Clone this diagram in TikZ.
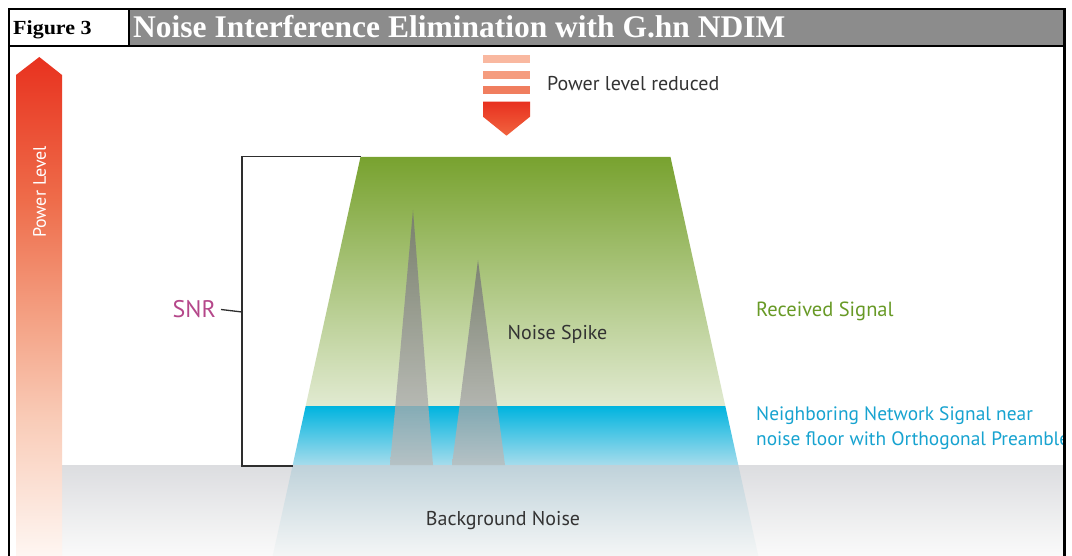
\documentclass[tikz,border=0pt]{standalone}
\usepackage{fontspec}
\setmainfont{Liberation Serif}
\setsansfont{PT Sans}

% palette
\definecolor{hdrgray}{HTML}{8C8C8C}
\definecolor{bandtop}{HTML}{DCDDE0}
\definecolor{bandbot}{HTML}{FAFAFA}
\definecolor{sigtop}{HTML}{78A22F}
\definecolor{sigbot}{HTML}{E1EAD1}
\definecolor{nbrtop}{HTML}{00B4DF}
\definecolor{nbrbot}{HTML}{A6DCEC}
\definecolor{floortop}{HTML}{BFD2DA}
\definecolor{floorbot}{HTML}{F4F6F6}
\definecolor{spiketop}{HTML}{737373}
\definecolor{spikebot}{HTML}{BBBBBB}
\definecolor{txtdark}{HTML}{333333}
\definecolor{snrcol}{HTML}{B5478A}
\definecolor{sigtxt}{HTML}{689A26}
\definecolor{nbrtxt}{HTML}{17A3D0}
\definecolor{brkcol}{HTML}{2E2E2E}
\definecolor{pw0}{HTML}{E8321F}
\definecolor{pw1}{HTML}{EE6C4A}
\definecolor{pw2}{HTML}{F4A285}
\definecolor{pw3}{HTML}{F9CCB8}
\definecolor{pw4}{HTML}{FEF6F2}
\definecolor{bar1}{HTML}{F9B8A0}
\definecolor{bar2}{HTML}{F59C7E}
\definecolor{bar3}{HTML}{F07E5F}
\definecolor{redtop}{HTML}{E8311F}
\definecolor{redbot}{HTML}{F1643F}

% power-level arrow fades from red at the tip to near white at the floor
\pgfdeclareverticalshading{powerfade}{100bp}{color(0bp)=(pw4); color(25bp)=(pw4);
  color(38.6bp)=(pw3); color(48.6bp)=(pw2); color(60.7bp)=(pw1);
  color(75bp)=(pw0); color(100bp)=(pw0)}

\tikzset{
  lbl/.style={font=\sffamily, inner sep=0pt},
  bracketline/.style={draw=brkcol, line width=1.3pt},
  spikefill/.style={top color=spiketop, bottom color=spikebot, fill opacity=0.78},
  frameline/.style={draw=black, line width=2.4pt},
}

\begin{document}
\begin{tikzpicture}[x=1pt,y=-1pt]
\useasboundingbox (0,0) rectangle (1072,556);
\fill[white] (0,0) rectangle (1072,556);

\begin{scope}
\clip (9,46) rectangle (1064.5,556);

% background noise floor
\shade[top color=bandtop, bottom color=bandbot] (62,465) rectangle (1064.5,556);

% received signal (trapezoid), neighbouring signal band and floor part
\shade[top color=sigtop, bottom color=sigbot]
  (360.5,157) -- (670.5,157) -- (725.3,406) -- (305.7,406) -- cycle;
\shade[top color=nbrtop, bottom color=nbrbot]
  (305.7,406) -- (725.3,406) -- (738.3,465) -- (292.7,465) -- cycle;
\shade[top color=floortop, bottom color=floorbot]
  (292.7,465) -- (738.3,465) -- (758.3,556) -- (272.7,556) -- cycle;

% noise spikes
\shade[spikefill] (413,210) -- (433,465) -- (390,465) -- cycle;
\shade[spikefill] (478,260) -- (505,465) -- (452,465) -- cycle;

% SNR bracket
\coordinate (brtop) at (360.5,156.5);
\coordinate (brbot) at (293,466);
\coordinate (brmid) at (242,312);
\draw[bracketline] (brtop) -- (242,156.5) -- (242,466) -- (brbot);
\node[lbl, font=\sffamily\fontsize{24}{28}\selectfont, text=snrcol,
      anchor=east, inner xsep=5pt] (snr) at (221,309.5) {SNR};
\draw[bracketline] (snr.east) -- (brmid);

% labels
\node[lbl, font=\sffamily\fontsize{20}{24}\selectfont, text=txtdark, anchor=base]
  (spike) at (557.5,340) {Noise Spike};
\node[lbl, font=\sffamily\fontsize{20.5}{24}\selectfont, text=sigtxt, anchor=base west]
  (recv) at (756,317) {Received Signal};
\node[lbl, font=\sffamily\fontsize{19.4}{23}\selectfont, text=nbrtxt, anchor=base west]
  (nbr1) at (756,420) {Neighboring Network Signal near};
\node[lbl, font=\sffamily\fontsize{19.4}{23}\selectfont, text=nbrtxt, anchor=base west]
  (nbr2) at (756,445) {noise floor with Orthogonal Preamble};
\node[lbl, font=\sffamily\fontsize{20}{24}\selectfont, text=txtdark, anchor=base]
  (bgn) at (503,525) {Background Noise};

% power level arrow
\shade[shading=powerfade] (16,75) -- (39.3,57) -- (62,75) -- (62,556) -- (16,556) -- cycle;
\node[lbl, font=\sffamily\fontsize{18}{21}\selectfont, text=white, rotate=90]
  (plevel) at (39.5,192) {Power Level};

% power level reduced marker
\fill[bar1] (483,55) rectangle (530,63.3);
\fill[bar2] (483,70.7) rectangle (530,79);
\fill[bar3] (483,86) rectangle (530,94.3);
\shade[top color=redtop, bottom color=redbot]
  (483,101.7) -- (530,101.7) -- (530,116.7) -- (506.5,135.7) -- (483,116.7) -- cycle;
\node[lbl, font=\sffamily\fontsize{20}{24}\selectfont, text=txtdark, anchor=base west]
  (reduced) at (547,90.7) {Power level reduced};
\end{scope}

% header
\fill[hdrgray] (129,9) rectangle (1064.5,46);
\node[inner sep=0pt, anchor=base west, font=\bfseries\fontsize{20}{23}\selectfont]
  (fig) at (13,35) {\scalebox{1.1}[1]{Figure 3}};
\node[inner sep=0pt, anchor=base west, text=white, font=\bfseries\fontsize{31.5}{34}\selectfont]
  (title) at (133,38) {Noise Interference Elimination with G.hn NDIM};

% frame
\draw[frameline] (9,556) -- (9,9) -- (1064.5,9) -- (1064.5,556);
\draw[frameline] (9,46) -- (1064.5,46);
\draw[frameline] (129,9) -- (129,46);
\end{tikzpicture}
\end{document}
